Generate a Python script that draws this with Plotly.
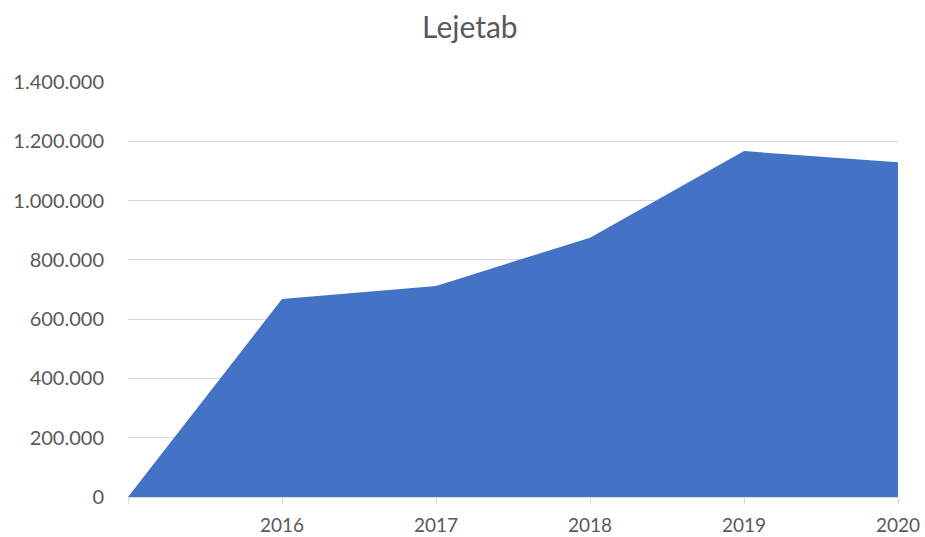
import plotly.graph_objects as go

categories = ["", "2016", "2017", "2018", "2019", "2020"]
values = [0, 668000, 712000, 875000, 1167000, 1129000]
y_ticks = [0, 200000, 400000, 600000, 800000, 1000000, 1200000, 1400000]

xs = list(range(len(categories)))

fig = go.Figure()
fig.add_trace(go.Scatter(
    x=xs, y=values, mode="none", fill="tozeroy",
    fillcolor="#4472C4", hoverinfo="x+y", showlegend=False,
))

font_family = "Lato, 'Open Sans', sans-serif"
fig.update_layout(
    width=925, height=537,
    margin=dict(l=128, r=27, t=82, b=40),
    paper_bgcolor="white", plot_bgcolor="white",
    separators=",.",
    title=dict(text="Lejetab", x=0.508, xanchor="center", y=0.948, yanchor="middle",
               font=dict(family=font_family, size=30, color="#595959")),
    font=dict(family=font_family, size=20, color="#595959"),
)
fig.update_xaxes(
    range=[0, len(categories) - 1],
    tickmode="array", tickvals=xs, ticktext=categories,
    showgrid=False, zeroline=False, automargin=False,
    showline=True, linecolor="#d9d9d9", linewidth=1,
    ticks="outside", ticklen=6, tickcolor="#d9d9d9",
    ticklabelstandoff=5,
    tickfont=dict(family=font_family, size=19, color="#595959"),
)
fig.update_yaxes(
    range=[0, 1400000],
    tickmode="array", tickvals=y_ticks, tickformat=",d",
    showgrid=True, gridcolor="#d9d9d9", gridwidth=1,
    zeroline=False, showline=False, automargin=False,
    ticklabelstandoff=23,
    tickfont=dict(family=font_family, size=20, color="#595959"),
)

fig.write_html(
    "out.html",
    config={"displayModeBar": False},
    post_script="document.body.style.margin='0';document.body.style.overflow='hidden';",
)
